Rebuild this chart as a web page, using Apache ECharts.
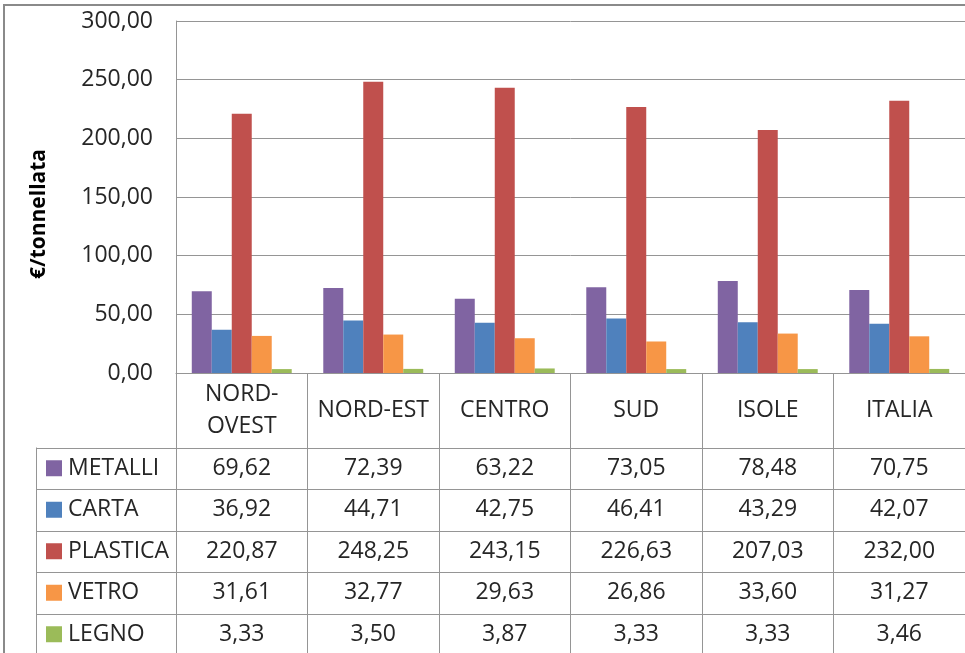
<!DOCTYPE html>
<html>
<head>
<meta charset="utf-8">
<script src="https://cdn.jsdelivr.net/npm/echarts@6/dist/echarts.min.js"></script>
<style>
  html, body { margin: 0; padding: 0; background: #fff; }
  #chart { width: 965px; height: 653px; }
</style>
</head>
<body>
<div id="chart"></div>
<script>
// Costo medio per tonnellata, per materiale e macro-area
const categories = ['NORD-\nOVEST', 'NORD-EST', 'CENTRO', 'SUD', 'ISOLE', 'ITALIA'];
const materials = ['METALLI', 'CARTA', 'PLASTICA', 'VETRO', 'LEGNO'];
const metalli  = [69.62, 72.39, 63.22, 73.05, 78.48, 70.75];
const carta    = [36.92, 44.71, 42.75, 46.41, 43.29, 42.07];
const plastica = [220.87, 248.25, 243.15, 226.63, 207.03, 232.00];
const vetro    = [31.61, 32.77, 29.63, 26.86, 33.60, 31.27];
const legno    = [3.33, 3.50, 3.87, 3.33, 3.33, 3.46];
const yTicks   = [0, 50, 100, 150, 200, 250, 300];
const yTitle   = '€/tonnellata';

const seriesValues = [metalli, carta, plastica, vetro, legno];
const colors = ['#8064A2', '#4F81BD', '#C0504D', '#F79646', '#9BBB59'];

const FONT = '"Open Sans", "Liberation Sans", sans-serif';
const FS = 23;
const LINE = '#959595';
const TEXT = '#262626';

const fmt = v => v.toFixed(2).replace('.', ',');

// Plot box
const G_LEFT = 176, G_TOP = 21, G_W = 792, G_H = 352;
// Data table below the plot
const HEADER_BOTTOM = 447.5, ROW_H = 41.5, TABLE_LEFT = 36;

const chart = echarts.init(document.getElementById('chart'), null, { renderer: 'canvas' });

chart.setOption({
  animation: false,
  backgroundColor: '#fff',
  grid: { left: G_LEFT, top: G_TOP, width: G_W, height: G_H, containLabel: false },
  xAxis: {
    type: 'category',
    data: categories,
    axisLine: { show: true, lineStyle: { color: LINE, width: 1 } },
    axisTick: { show: true, interval: 0, length: 290, lineStyle: { color: LINE, width: 1 } },
    axisLabel: {
      interval: 0, margin: 37, verticalAlign: 'middle',
      fontFamily: FONT, fontSize: FS, lineHeight: 32, color: TEXT
    }
  },
  yAxis: {
    type: 'value',
    min: yTicks[0], max: yTicks[yTicks.length - 1], interval: yTicks[1] - yTicks[0],
    axisLine: { show: true, lineStyle: { color: LINE, width: 1 } },
    axisTick: { show: false },
    splitLine: { show: true, lineStyle: { color: LINE, width: 1 } },
    axisLabel: {
      margin: 23, formatter: v => fmt(v),
      fontFamily: FONT, fontSize: FS, color: TEXT
    }
  },
  series: materials.map((name, i) => ({
    name,
    type: 'bar',
    data: seriesValues[i],
    barGap: '0%',
    barCategoryGap: '24%',
    itemStyle: { color: colors[i] }
  }))
});

// Data table: lines, legend keys and values, aligned with the category axis
const graphics = [];
// Outer frame
graphics.push({
  type: 'rect', silent: true, z: 100,
  shape: { x: 4, y: 5, width: 1000, height: 700 },
  style: { fill: null, stroke: '#8a8a8a', lineWidth: 2 }
});
// Value axis title
graphics.push({
  type: 'text', silent: true,
  x: 39, y: 214, rotation: Math.PI / 2,
  style: { text: yTitle, fontFamily: FONT, fontSize: 21, fontWeight: 'bold', fill: '#000', align: 'center', verticalAlign: 'middle' }
});
// Horizontal row lines
for (let r = 0; r <= materials.length; r++) {
  const y = Math.round(HEADER_BOTTOM + r * ROW_H) + 0.5;
  graphics.push({
    type: 'line', silent: true,
    shape: { x1: TABLE_LEFT, y1: y, x2: 970, y2: y },
    style: { stroke: LINE, lineWidth: 1 }
  });
}
// Left edge of the legend column
graphics.push({
  type: 'line', silent: true,
  shape: { x1: TABLE_LEFT + 0.5, y1: HEADER_BOTTOM, x2: TABLE_LEFT + 0.5, y2: 660 },
  style: { stroke: LINE, lineWidth: 1 }
});
materials.forEach((name, r) => {
  const cy = HEADER_BOTTOM + (r + 0.5) * ROW_H;
  graphics.push({
    type: 'rect', silent: true,
    shape: { x: 46, y: cy - 8, width: 16, height: 16 },
    style: { fill: colors[r] }
  });
  graphics.push({
    type: 'text', silent: true,
    x: 68, y: cy,
    style: { text: name, fontFamily: FONT, fontSize: FS, fill: TEXT, align: 'left', verticalAlign: 'middle' }
  });
  categories.forEach((cat, c) => {
    const cx = chart.convertToPixel({ xAxisIndex: 0 }, c);
    graphics.push({
      type: 'text', silent: true,
      x: cx, y: cy,
      style: { text: fmt(seriesValues[r][c]), fontFamily: FONT, fontSize: FS, fill: TEXT, align: 'center', verticalAlign: 'middle' }
    });
  });
});

chart.setOption({ graphic: graphics });
</script>
</body>
</html>
